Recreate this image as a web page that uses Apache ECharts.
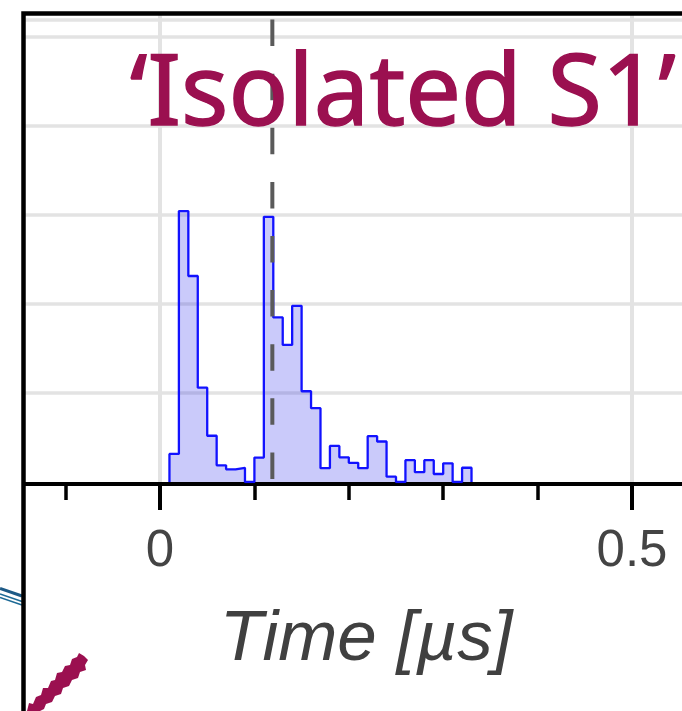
<!DOCTYPE html>
<html>
<head>
<meta charset="utf-8">
<title>Isolated S1</title>
<script src="https://cdn.jsdelivr.net/npm/echarts@6.0.0/dist/echarts.min.js"></script>
<style>
  html, body { margin: 0; padding: 0; background: #ffffff; }
  #chart { width: 682px; height: 711px; }
</style>
</head>
<body>
<div id="chart"></div>
<script>
// Photon arrival times, 10 ns bins (left edges in µs)
const binLeft = [0.01, 0.02, 0.03, 0.04, 0.05, 0.06, 0.07, 0.08, 0.09, 0.10,
                 0.11, 0.12, 0.13, 0.14, 0.15, 0.16, 0.17, 0.18, 0.19, 0.20,
                 0.21, 0.22, 0.23, 0.24, 0.25, 0.26, 0.27, 0.28, 0.29, 0.30,
                 0.31, 0.32];
const binWidth = 0.01;
const counts = [6.3, 60.9, 46.3, 21.2, 10.4, 3.75, 2.85, 3.2, 0, 5.5,
                59.6, 37.0, 30.8, 39.6, 20.4, 16.6, 3.1, 8.1, 5.55, 4.3,
                3.1, 10.3, 9.1, 1.2, 0, 4.9, 2.2, 4.9, 1.8, 4.2,
                0, 3.2];
// Reference time marker
const markerTime = 0.119;

// Axis ticks
const majorTicks = [0, 0.5];
const minorTicks = [-0.1, 0.1, 0.2, 0.3, 0.4];
const yGridValues = [20, 40, 60, 80, 100, 103.9];

const titleText = '\u2018Isolated S1\u2019';
const xTitle = 'Time [\u00b5s]';

const xMin = -0.1441, xMax = 0.553;
const yMax = 105.3;

// Step outline of the histogram
const stepPoints = [[binLeft[0], 0]];
binLeft.forEach((x, i) => stepPoints.push([x, counts[i]]));
stepPoints.push([binLeft[binLeft.length - 1] + binWidth, 0]);

const chart = echarts.init(document.getElementById('chart'), null, { renderer: 'canvas' });

const gridLine = { show: true, lineStyle: { color: '#e3e3e3', width: 3.5 } };

chart.setOption({
  animation: false,
  backgroundColor: '#ffffff',
  grid: { left: 24, top: 13.5, right: 0, height: 468.5 },
  xAxis: [
    {
      type: 'value', min: xMin, max: xMax, offset: 2,
      axisLine: { show: true, onZero: false, lineStyle: { color: '#000', width: 4 } },
      axisTick: { show: true, customValues: majorTicks, length: 26, lineStyle: { color: '#000', width: 4 } },
      axisLabel: { show: true, customValues: majorTicks, margin: 42, fontSize: 51,
                   fontFamily: 'Liberation Sans', color: '#444' },
      splitLine: { show: true, lineStyle: { color: '#e3e3e3', width: 4 } }
    },
    {
      type: 'value', min: xMin, max: xMax, offset: 2, position: 'bottom',
      axisLine: { show: false },
      axisTick: { show: true, customValues: minorTicks, length: 18, lineStyle: { color: '#000', width: 3.5 } },
      axisLabel: { show: false },
      splitLine: { show: false }
    }
  ],
  yAxis: {
    type: 'value', min: 0, max: yMax,
    axisLine: { show: false },
    axisTick: { show: false, customValues: yGridValues },
    axisLabel: { show: false },
    splitLine: gridLine
  },
  series: [
    {
      type: 'line',
      step: 'end',
      data: stepPoints,
      symbol: 'none',
      lineStyle: { color: '#1212ff', width: 2.3 },
      areaStyle: { color: 'rgba(25,25,235,0.23)', opacity: 1, origin: 0 },
      z: 3
    },
    {
      type: 'line',
      data: [[markerTime, 0], [markerTime, yMax]],
      symbol: 'none',
      lineStyle: { color: '#5a5a5a', width: 4, type: [26.5, 27.6], dashOffset: 51 },
      z: 4
    }
  ],
  graphic: [
    // outer frame
    { type: 'rect', z: 20, silent: true,
      shape: { x: 23.5, y: 13.5, width: 1000, height: 1000 },
      style: { fill: null, stroke: '#000', lineWidth: 4.5 } },
    { type: 'text', z: 21, silent: true,
      style: { x: 403, y: 97, text: titleText, align: 'center', verticalAlign: 'middle',
               fontSize: 99, fontFamily: 'Noto Sans', fill: '#9b1050',
               stroke: '#9b1050', lineWidth: 1.5 } },
    { type: 'text', z: 21, silent: true,
      style: { x: 366, y: 640, text: xTitle, align: 'center', verticalAlign: 'middle',
               fontSize: 71, fontStyle: 'italic', fontFamily: 'Liberation Sans', fill: '#404040' } },
    // neighbouring panel strokes at the lower left
    { type: 'line', silent: true, shape: { x1: 0, y1: 588.5, x2: 22, y2: 596 },
      style: { stroke: '#1d5a86', lineWidth: 3 } },
    { type: 'line', silent: true, shape: { x1: 0, y1: 594, x2: 22, y2: 601.5 },
      style: { stroke: '#1d6a96', lineWidth: 1.5 } },
    { type: 'line', silent: true, shape: { x1: 0, y1: 597.5, x2: 22, y2: 605 },
      style: { stroke: '#1d6a96', lineWidth: 1.5 } },
    { type: 'polygon', silent: true,
      shape: { points: [[27, 711], [29, 703], [33, 704], [36, 697], [41, 695], [43, 688], [48, 688],
                        [51, 681], [55, 680], [57, 673], [62, 672], [65, 666], [70, 665], [72, 659],
                        [77, 657], [79, 653], [84, 656], [88, 660], [85, 665], [86, 670], [80, 672],
                        [78, 678], [72, 680], [69, 686], [63, 688], [61, 694], [55, 696], [52, 702],
                        [46, 704], [44, 709], [40, 711]] },
      style: { fill: '#9b1050' } }
  ]
});
</script>
</body>
</html>
